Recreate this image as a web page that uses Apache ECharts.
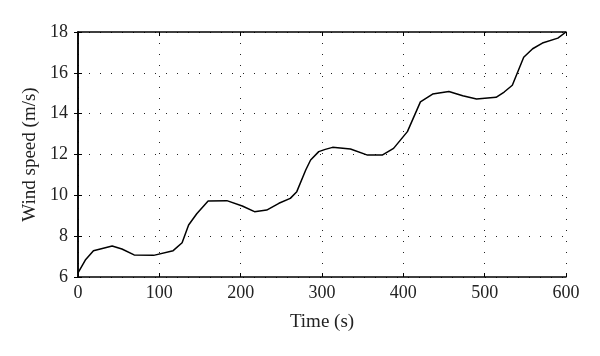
<!DOCTYPE html>
<html>
<head>
<meta charset="utf-8">
<script src="https://cdn.jsdelivr.net/npm/echarts@6/dist/echarts.min.js"></script>
<style>html,body{margin:0;padding:0;background:#fff}#c{width:600px;height:356px}</style>
</head>
<body>
<div id="c"></div>
<script>
var time = [0, 9, 19, 42, 54, 69, 93, 117, 128, 136, 146, 160, 183, 202, 217, 232, 247, 261, 269, 280, 286, 296, 304, 313, 335, 356, 374, 388, 405, 421, 436, 456, 473, 490, 514, 524, 534, 548, 559, 571, 590, 600];
var speed = [6.2, 6.83, 7.29, 7.52, 7.37, 7.08, 7.06, 7.29, 7.68, 8.55, 9.1, 9.72, 9.74, 9.48, 9.2, 9.28, 9.61, 9.85, 10.18, 11.24, 11.73, 12.14, 12.25, 12.35, 12.27, 11.97, 11.97, 12.3, 13.12, 14.58, 14.96, 15.09, 14.88, 14.72, 14.8, 15.06, 15.39, 16.76, 17.18, 17.46, 17.7, 18.0];
var xTicks = [0, 100, 200, 300, 400, 500, 600];
var yTicks = [6, 8, 10, 12, 14, 16, 18];
var xTitle = 'Time (s)';
var yTitle = 'Wind speed (m/s)';

var pts = time.map(function (t, i) { return [t, speed[i]]; });
var font = 'Liberation Serif';
var tickStyle = { show: true, inside: true, length: 4, lineStyle: { color: '#000', width: 1 } };
var axLine = { show: true, lineStyle: { color: '#000', width: 1.5 } };
var chart = echarts.init(document.getElementById('c'), null, { renderer: 'canvas' });
chart.setOption({
  animation: false,
  backgroundColor: '#fff',
  grid: { left: 78, right: 34, top: 32, bottom: 79, containLabel: false },
  xAxis: [{
    type: 'value', min: xTicks[0], max: xTicks[xTicks.length - 1], interval: 100,
    position: 'bottom',
    name: xTitle, nameLocation: 'middle', nameGap: 36,
    nameTextStyle: { fontFamily: font, fontSize: 19, color: '#222' },
    axisLine: axLine, axisTick: tickStyle,
    axisLabel: { fontFamily: font, fontSize: 18, color: '#222', margin: 7 },
    splitLine: { show: true, lineStyle: { color: '#222', width: 1, type: [1, 10] } }
  }, {
    type: 'value', min: xTicks[0], max: xTicks[xTicks.length - 1], interval: 100,
    position: 'top', axisLine: axLine, axisTick: tickStyle,
    axisLabel: { show: false }, splitLine: { show: false }
  }],
  yAxis: [{
    type: 'value', min: yTicks[0], max: yTicks[yTicks.length - 1], interval: 2,
    position: 'left',
    name: yTitle, nameLocation: 'middle', nameGap: 35, nameRotate: 90,
    nameTextStyle: { fontFamily: font, fontSize: 19, color: '#222' },
    axisLine: axLine, axisTick: tickStyle,
    axisLabel: { fontFamily: font, fontSize: 18, color: '#222', margin: 10 },
    splitLine: { show: true, lineStyle: { color: '#222', width: 1, type: [1, 10] } }
  }, {
    type: 'value', min: yTicks[0], max: yTicks[yTicks.length - 1], interval: 2,
    position: 'right', axisLine: axLine, axisTick: tickStyle,
    axisLabel: { show: false }, splitLine: { show: false }
  }],
  series: [{
    type: 'line', data: pts, xAxisIndex: 0, yAxisIndex: 0,
    showSymbol: false, symbol: 'none', smooth: false,
    lineStyle: { color: '#000', width: 1.5 }
  }]
});
</script>
</body>
</html>
